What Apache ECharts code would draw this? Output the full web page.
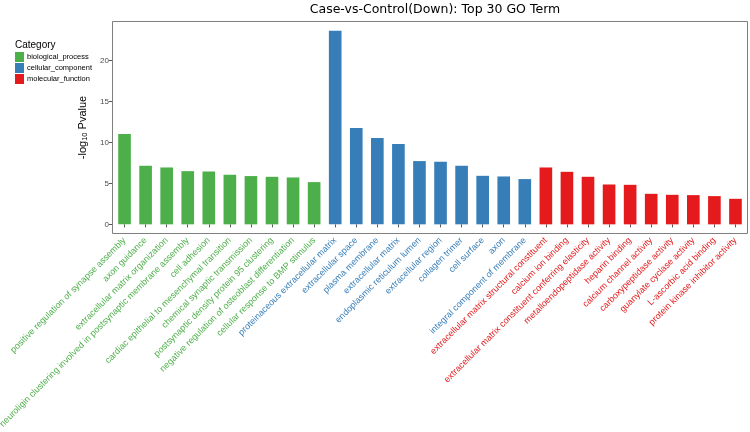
<!DOCTYPE html>
<html>
<head>
<meta charset="utf-8">
<script src="https://cdn.jsdelivr.net/npm/echarts@6/dist/echarts.min.js"></script>
<style>html,body{margin:0;padding:0;background:#fff}#c{width:750px;height:432px}</style>
</head>
<body>
<div id="c"></div>
<script>
const categories = [
  "positive regulation of synapse assembly",
  "axon guidance",
  "extracellular matrix organization",
  "neuroligin clustering involved in postsynaptic membrane assembly",
  "cell adhesion",
  "cardiac epithelial to mesenchymal transition",
  "chemical synaptic transmission",
  "postsynaptic density protein 95 clustering",
  "negative regulation of osteoblast differentiation",
  "cellular response to BMP stimulus",
  "proteinaceous extracellular matrix",
  "extracellular space",
  "plasma membrane",
  "extracellular matrix",
  "endoplasmic reticulum lumen",
  "extracellular region",
  "collagen trimer",
  "cell surface",
  "axon",
  "integral component of membrane",
  "extracellular matrix structural constituent",
  "calcium ion binding",
  "extracellular matrix constituent conferring elasticity",
  "metalloendopeptidase activity",
  "heparin binding",
  "calcium channel activity",
  "carboxypeptidase activity",
  "guanylate cyclase activity",
  "L-ascorbic acid binding",
  "protein kinase inhibitor activity"
];
const categoryOf = [
  0,0,0,0,0,0,0,0,0,0,
  1,1,1,1,1,1,1,1,1,1,
  2,2,2,2,2,2,2,2,2,2
];
const values = [
  11.03, 7.16, 6.95, 6.50, 6.46, 6.06, 5.90, 5.81, 5.73, 5.16,
  23.67, 11.77, 10.54, 9.81, 7.73, 7.65, 7.16, 5.93, 5.85, 5.53,
  6.95, 6.42, 5.81, 4.87, 4.83, 3.73, 3.61, 3.57, 3.45, 3.12
];
const groupNames = ["biological_process", "cellular_component", "molecular_function"];
const groupColors = ["#4daf4a", "#377eb8", "#e41a1c"];
const yTicks = [0, 5, 10, 15, 20];

const series = groupNames.map((name, g) => ({
  name: name,
  type: 'bar',
  stack: 'all',
  barWidth: '60%',
  itemStyle: { color: groupColors[g] },
  data: values.map((v, i) => categoryOf[i] === g ? v : '-')
}));

const chart = echarts.init(document.getElementById('c'));
chart.setOption({
  animation: false,
  backgroundColor: '#fff',
  title: {
    text: 'Case-vs-Control(Down): Top 30 GO Term',
    left: 430, textAlign: 'center', top: -2,
    textStyle: { fontFamily: 'DejaVu Sans', fontSize: 12.5, fontWeight: 'normal', color: '#000' }
  },
  legend: {
    orient: 'vertical', left: 10, top: 47,
    itemWidth: 9, itemHeight: 10, itemGap: 1,
    icon: 'rect',
    textStyle: { fontFamily: 'Liberation Sans', fontSize: 7.5, color: '#000', padding: [0,0,0,-2] },
    data: groupNames
  },
  graphic: [{
    type: 'text', left: 15, top: 40,
    style: { text: 'Category', font: '10px "Liberation Sans"', fill: '#000' }
  }, {
    type: 'rect', z: 100, silent: true,
    shape: { x: 112.5, y: 21.5, width: 635, height: 212 },
    style: { fill: 'none', stroke: '#7f7f7f', lineWidth: 1 }
  }],
  grid: {
    left: 114, right: 4, top: 21, height: 213,
    outerBoundsMode: 'none', containLabel: false,
    show: false
  },
  xAxis: {
    type: 'category', data: categories,
    axisLine: { show: false },
    axisTick: { show: true, alignWithLabel: true, length: 3, lineStyle: { color: '#555' } },
    axisLabel: {
      interval: 0, rotate: 45, margin: 5,
      fontFamily: 'Liberation Sans', fontSize: 9,
      color: (v, i) => groupColors[categoryOf[i]]
    }
  },
  yAxis: {
    type: 'value', min: -1.18, max: 24.85, offset: 2,
    name: '{a|-log}{s|10}{a| Pvalue}',
    nameLocation: 'middle', nameGap: 13, nameRotate: 90,
    nameTextStyle: {
      rich: {
        a: { fontFamily: 'Liberation Sans', fontSize: 11, color: '#000' },
        s: { fontFamily: 'Liberation Sans', fontSize: 7.5, color: '#000', verticalAlign: 'bottom', padding: [4,0,0,0] }
      }
    },
    splitLine: { show: false },
    axisLine: { show: false },
    axisTick: { show: true, length: 3, customValues: yTicks, lineStyle: { color: '#555' } },
    axisLabel: { customValues: yTicks, fontFamily: 'Liberation Sans', fontSize: 8, color: '#4d4d4d', margin: 3 }
  },
  series: series
});
</script>
</body>
</html>
